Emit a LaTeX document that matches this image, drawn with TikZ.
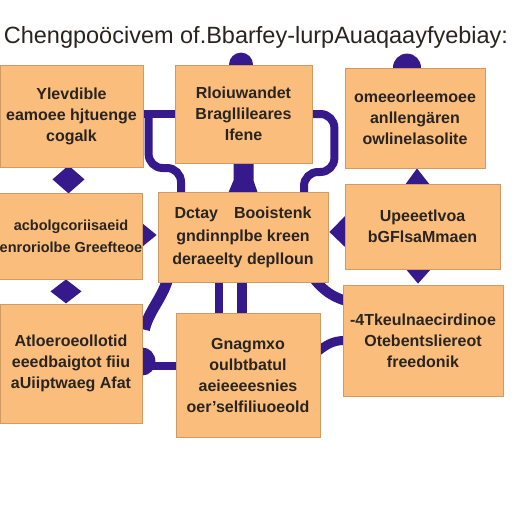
\documentclass[tikz,border=0pt]{standalone}
\usepackage{fontspec}
\setmainfont{Liberation Sans}
\usetikzlibrary{backgrounds,calc}
\definecolor{boxfill}{HTML}{FABD7C}
\definecolor{boxline}{HTML}{CF9A63}
\definecolor{conn}{HTML}{361A8C}
\definecolor{ink}{HTML}{2A2420}
\begin{document}
\begin{tikzpicture}[x=1pt,y=-1pt,
  box/.style={draw=boxline, line width=0.8pt, fill=boxfill, inner sep=0pt, align=center, text=ink,
    font=\fontsize{16}{21}\selectfont\bfseries},
  wire/.style={draw=conn, line width=8pt},
  blob/.style={fill=conn}]
\useasboundingbox (0,0) rectangle (512,512);

\node[text=ink, font=\fontsize{23.5}{28}\selectfont] (title) at (256,37) {Chengpoöcivem of.Bbarfey-lurpAuaqaayfyebiay:};

\node[box, minimum width=143, minimum height=102] (b1) at (71.5,116) {Ylevdible\\eamoee hjtuenge\\cogalk};
\node[box, minimum width=137, minimum height=98] (b2) at (243.5,114) {Rloiuwandet\\Bragllileares\\Ifene};
\node[box, minimum width=140, minimum height=100] (b3) at (415,118) {omeeorleemoee\\anllengären\\owlinelasolite};
\node[box, minimum width=142, minimum height=86, font=\fontsize{14.5}{22}\selectfont\bfseries] (b4) at (71,236) {acbolgcoriisaeid\\enroriolbe Greefteoe};
\node[box, minimum width=170, minimum height=90, font=\fontsize{16}{23}\selectfont\bfseries] (b5) at (243,237) {Dctay\quad Booistenk\\gndinnplbe kreen\\deraeelty deplloun};
\node[box, minimum width=155, minimum height=85] (b6) at (422.5,226.5) {Upeeetlvoa\\bGFlsaMmaen};
\node[box, minimum width=142, minimum height=119] (b7) at (71,363.5) {Atloeroeollotid\\eeedbaigtot fiiu\\aUiiptwaeg Afat};
\node[box, minimum width=144, minimum height=124] (b8) at (248,375) {Gnagmxo\\oulbtbatul\\aeieeeesnies\\oer'selfiliuoeold};
\node[box, minimum width=160, minimum height=111] (b9) at (423,340.5) {-4Tkeulnaecirdinoe\\Otebentsliereot\\freedonik};

\begin{scope}[on background layer]
\fill[white] (0,0) rectangle (512,512);
% dots on top edges
\fill[blob] ($(b2.north)+(-2.5,0)$) circle[radius=12];
\fill[blob] ($(b3.north)+(-8,0)$) circle[radius=14];
% brackets
\draw[wire] (b2.west) -- (b1.east |- b2.west);
\draw[wire, rounded corners=14] ($(b2.west)+(-26,0)$) -- ++(0,54) -| ($(b5.north)+(-62,2)$);
\draw[wire, rounded corners=14] (b2.east) -- ++(22,0) -- ++(0,58) -| ($(b5.north)+(61,2)$);
% centre stem
\fill[blob] ($(b2.south)+(-10,-2)$) -- ++(20,0) -- ++(0,19) -- ($(b5.north)+(15,2)$)
  -- ($(b5.north)+(-15,2)$) -- ($(b2.south)+(-10,17)$) -- cycle;
% diamonds
\fill[blob] ($(b1.south)+(-3,-2)$) -- ++(16,14) -- ++(-16,14) -- ++(-16,-14) -- cycle;
\fill[blob] ($(b4.south)+(-5,0)$) -- ++(15.5,12) -- ++(-15.5,12) -- ++(-15.5,-12) -- cycle;
% triangles
\fill[blob] ($(b4.east)+(-2,-14)$) -- ($(b5.west)+(-1,-2)$) -- ($(b4.east)+(-2,12)$) -- cycle;
\fill[blob] ($(b6.north)+(-18,2)$) -- ($(b3.south)+(2,0)$) -- ($(b6.north)+(8,2)$) -- cycle;
\fill[blob] ($(b6.west)+(2,-12)$) -- ($(b6.west)+(2,22)$) -- ($(b5.east)+(1,-5)$) -- cycle;
\fill[blob] ($(b6.south)+(-18,-2)$) -- ($(b6.south)+(10,-2)$) -- ($(b9.north)+(-5,-1)$) -- cycle;
% curves
\draw[wire, line width=11pt] ($(b5.south west)+(10,-3)$) .. controls +(-6,20) and +(4,-18) .. ($(b7.north east)+(2,26)$);
\draw[wire, line width=10pt] ($(b5.south east)+(-14,-3)$) .. controls +(10,12) and +(-12,-4) .. ($(b9.west)+(2,-40)$);
\draw[wire, line width=9pt] ($(b9.west)+(2,0)$) .. controls +(-12,0) and +(8,-6) .. ($(b8.east)+(-2,-24)$);
% arrow b8 -> b7
\draw[wire] ($(b8.west)+(2,-9)$) -- ($(b7.east)+(0,2.5)$);
\fill[blob] ($(b7.east)+(0,-2)$) ellipse[x radius=13, y radius=14];
% bars b5 -> b8
\draw[wire, line width=8pt] ($(b5.south)+(-24,-2)$) -- ($(b8.north)+(-29,2)$);
\draw[wire, line width=10pt] ($(b5.south)+(-1,-2)$) -- ($(b8.north)+(-6,2)$);
\end{scope}
\end{tikzpicture}
\end{document}
